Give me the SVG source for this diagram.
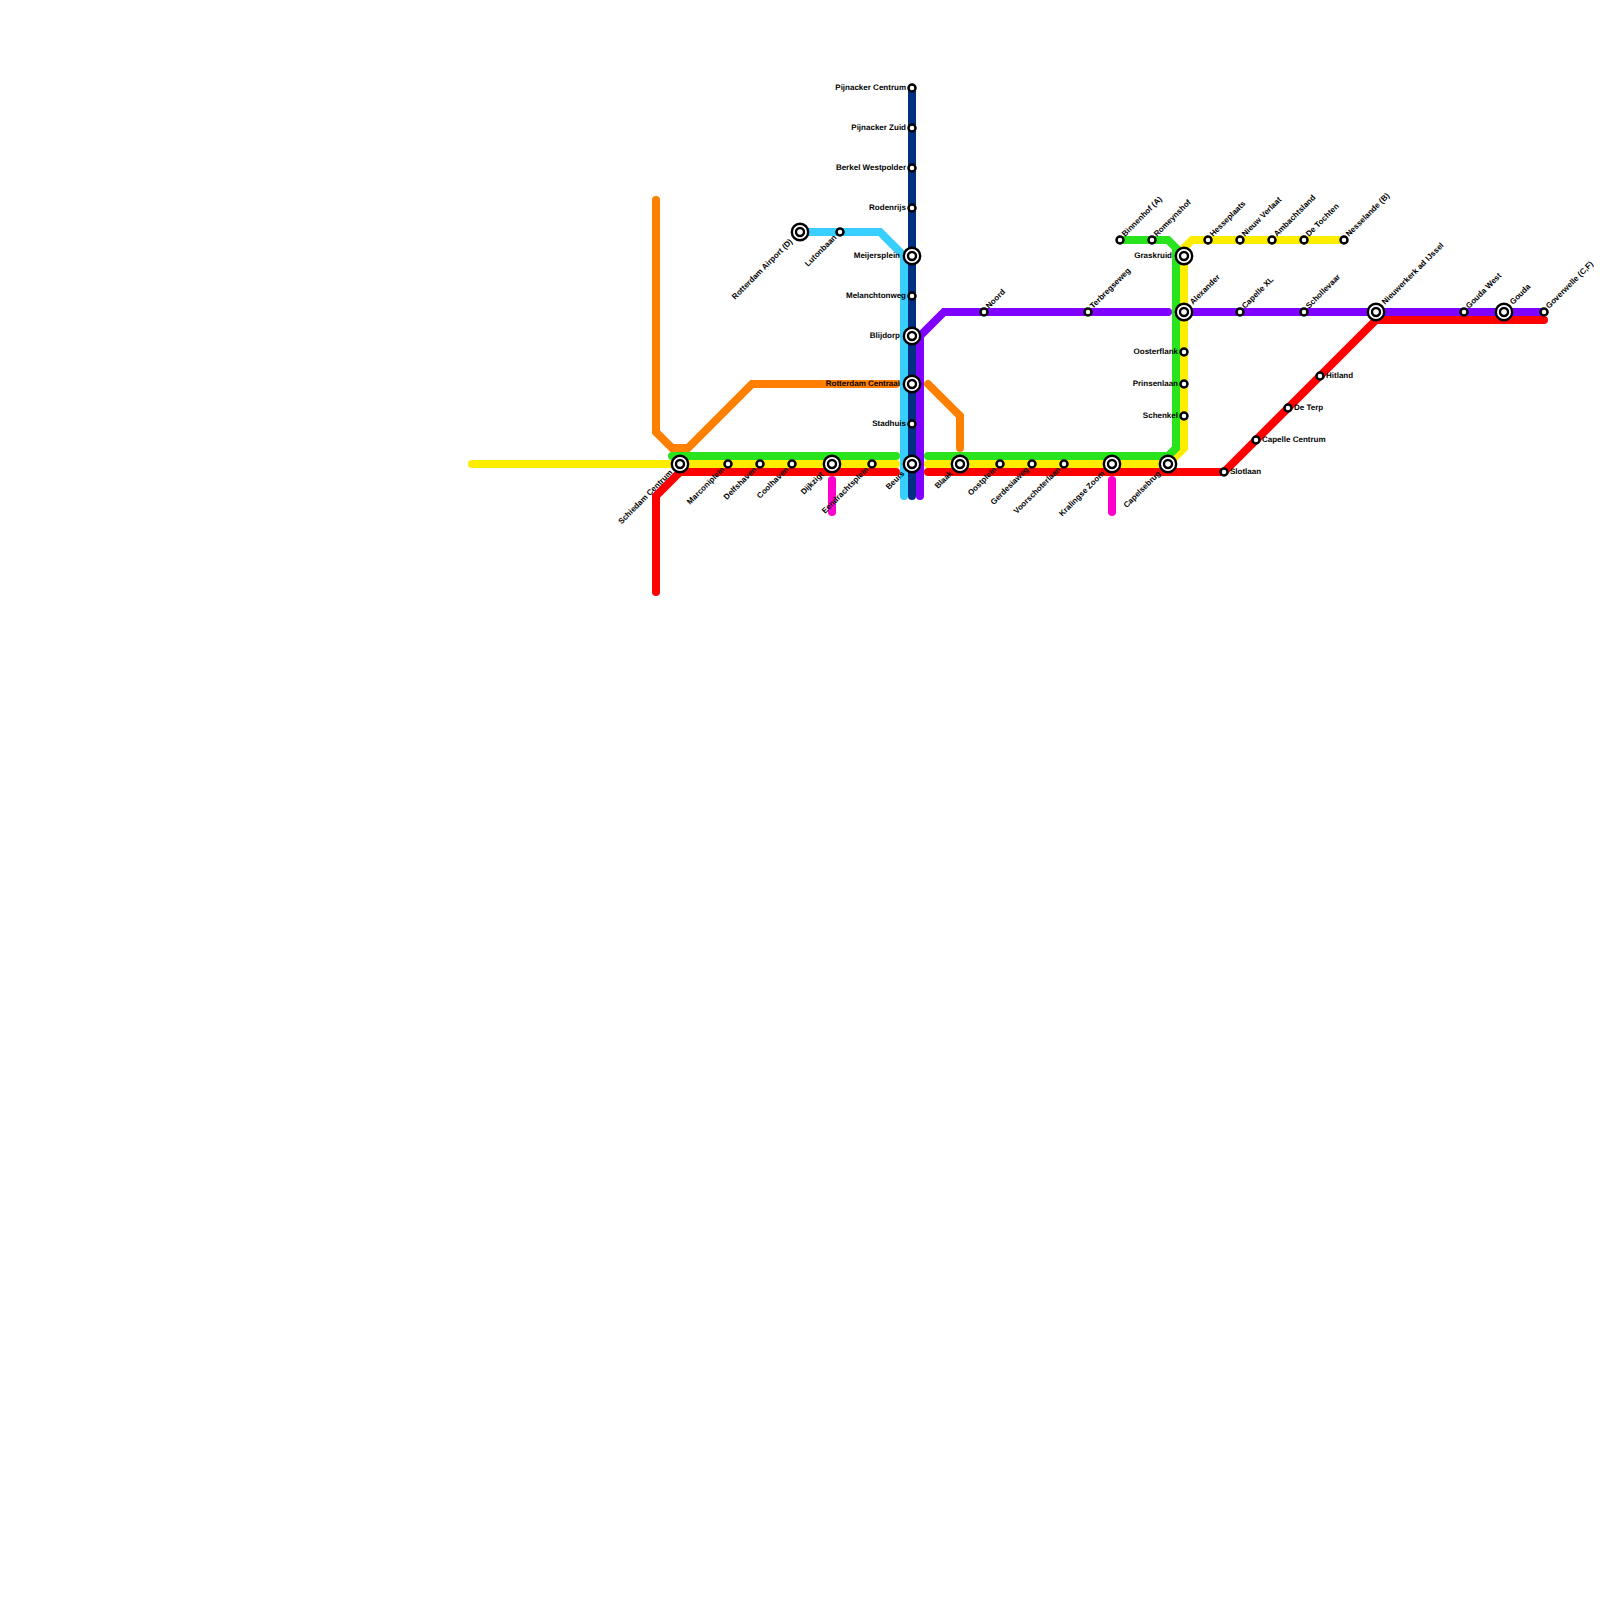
<svg xmlns="http://www.w3.org/2000/svg" width="1600" height="1600" viewBox="0 0 1600 1600">
<style>
.l{fill:none;stroke-width:8;stroke-linecap:round;stroke-linejoin:miter}
.o{fill:#fff;stroke:#000;stroke-width:2.5}
.o2{fill:#fff;stroke:#000;stroke-width:2.4}
text{font-family:"Liberation Sans",Arial,sans-serif;font-size:8px;font-weight:700;fill:#000;text-rendering:geometricPrecision}
.e{text-anchor:end}
</style>
<rect width="1600" height="1600" fill="#fff"/>
<g id="connectors">
<path class="l" stroke="#ff7f00" d="M656 200V432L672 448H688L752 384H896"/>
<path class="l" stroke="#ff7f00" d="M928 384L960 416V448"/>
<path class="l" stroke="#ffed00" d="M472 464H896"/>
<path class="l" stroke="#ffed00" d="M928 464H1168L1184 448V248L1192 240H1344"/>
<path class="l" stroke="#29e31d" d="M672 456H896"/>
<path class="l" stroke="#29e31d" d="M928 456H1168L1176 448V248L1168 240H1120"/>
<path class="l" stroke="#ff0000" d="M656 592V496L680 472H896"/>
<path class="l" stroke="#ff0000" d="M928 472H1224L1376 320H1544"/>
<path class="l" stroke="#ff00cc" d="M832 480V512"/>
<path class="l" stroke="#ff00cc" d="M1112 480V512"/>
<path class="l" stroke="#38cfff" d="M800 232H880L904 256V496"/>
<path class="l" stroke="#8000ff" d="M920 496V336L944 312H1168"/>
<path class="l" stroke="#8000ff" d="M1184 312H1544"/>
<path class="l" stroke="#003080" d="M912 88V496"/>
</g>
<g id="n-pijnacker-centrum"><circle class="o" cx="912" cy="88" r="3.5"/><text class="e" x="906" y="90">Pijnacker Centrum</text></g>
<g id="n-pijnacker-zuid"><circle class="o" cx="912" cy="128" r="3.5"/><text class="e" x="906" y="130">Pijnacker Zuid</text></g>
<g id="n-berkel"><circle class="o" cx="912" cy="168" r="3.5"/><text class="e" x="906" y="170">Berkel Westpolder</text></g>
<g id="n-rodenrijs"><circle class="o" cx="912" cy="208" r="3.5"/><text class="e" x="906" y="210">Rodenrijs</text></g>
<g id="n-meijersplein"><circle class="o2" cx="912" cy="256" r="8.2"/><circle class="o2" cx="912" cy="256" r="4"/><text class="e" x="900" y="258">Meijersplein</text></g>
<g id="n-melanchtonweg"><circle class="o" cx="912" cy="296" r="3.5"/><text class="e" x="906" y="298">Melanchtonweg</text></g>
<g id="n-blijdorp"><circle class="o2" cx="912" cy="336" r="8.2"/><circle class="o2" cx="912" cy="336" r="4"/><text class="e" x="900" y="338">Blijdorp</text></g>
<g id="n-rotterdam-centraal"><circle class="o2" cx="912" cy="384" r="8.2"/><circle class="o2" cx="912" cy="384" r="4"/><text class="e" x="900" y="386">Rotterdam Centraal</text></g>
<g id="n-stadhuis"><circle class="o" cx="912" cy="424" r="3.5"/><text class="e" x="906" y="426">Stadhuis</text></g>
<g id="n-beurs"><circle class="o2" cx="912" cy="464" r="8.2"/><circle class="o2" cx="912" cy="464" r="4"/><text class="e" transform="translate(905 474) rotate(-45)">Beurs</text></g>
<g id="n-airport"><circle class="o2" cx="800" cy="232" r="8.2"/><circle class="o2" cx="800" cy="232" r="4"/><text class="e" transform="translate(793 242) rotate(-45)">Rotterdam Airport (D)</text></g>
<g id="n-lutonbaan"><circle class="o" cx="840" cy="232" r="3.5"/><text class="e" transform="translate(837 238) rotate(-45)">Lutonbaan</text></g>
<g id="n-schiedam"><circle class="o2" cx="680" cy="464" r="8.2"/><circle class="o2" cx="680" cy="464" r="4"/><text class="e" transform="translate(673 473) rotate(-45)">Schiedam Centrum</text></g>
<g id="n-marconiplein"><circle class="o" cx="728" cy="464" r="3.5"/><text class="e" transform="translate(725 470) rotate(-45)">Marconiplein</text></g>
<g id="n-delfshaven"><circle class="o" cx="760" cy="464" r="3.5"/><text class="e" transform="translate(757 470) rotate(-45)">Delfshaven</text></g>
<g id="n-coolhaven"><circle class="o" cx="792" cy="464" r="3.5"/><text class="e" transform="translate(789 470) rotate(-45)">Coolhaven</text></g>
<g id="n-dijkzigt"><circle class="o2" cx="832" cy="464" r="8.2"/><circle class="o2" cx="832" cy="464" r="4"/><text class="e" transform="translate(824 475) rotate(-45)">Dijkzigt</text></g>
<g id="n-eendrachtsplein"><circle class="o" cx="872" cy="464" r="3.5"/><text class="e" transform="translate(869 470) rotate(-45)">Eendrachtsplein</text></g>
<g id="n-blaak"><circle class="o2" cx="960" cy="464" r="8.2"/><circle class="o2" cx="960" cy="464" r="4"/><text class="e" transform="translate(953 474) rotate(-45)">Blaak</text></g>
<g id="n-oostplein"><circle class="o" cx="1000" cy="464" r="3.5"/><text class="e" transform="translate(997 470) rotate(-45)">Oostplein</text></g>
<g id="n-gerdesiaweg"><circle class="o" cx="1032" cy="464" r="3.5"/><text class="e" transform="translate(1029 470) rotate(-45)">Gerdesiaweg</text></g>
<g id="n-voorschoterlaan"><circle class="o" cx="1064" cy="464" r="3.5"/><text class="e" transform="translate(1061 470) rotate(-45)">Voorschoterlaan</text></g>
<g id="n-kralingse-zoom"><circle class="o2" cx="1112" cy="464" r="8.2"/><circle class="o2" cx="1112" cy="464" r="4"/><text class="e" transform="translate(1105 474) rotate(-45)">Kralingse Zoom</text></g>
<g id="n-capelsebrug"><circle class="o2" cx="1168" cy="464" r="8.2"/><circle class="o2" cx="1168" cy="464" r="4"/><text class="e" transform="translate(1161 474) rotate(-45)">Capelsebrug</text></g>
<g id="n-slotlaan"><circle class="o" cx="1224" cy="472" r="3.5"/><text x="1230" y="474">Slotlaan</text></g>
<g id="n-capelle-centrum"><circle class="o" cx="1256" cy="440" r="3.5"/><text x="1262" y="442">Capelle Centrum</text></g>
<g id="n-de-terp"><circle class="o" cx="1288" cy="408" r="3.5"/><text x="1294" y="410">De Terp</text></g>
<g id="n-hitland"><circle class="o" cx="1320" cy="376" r="3.5"/><text x="1326" y="378">Hitland</text></g>
<g id="n-nieuwerkerk"><circle class="o2" cx="1376" cy="312" r="8.2"/><circle class="o2" cx="1376" cy="312" r="4"/><text transform="translate(1385 305) rotate(-45)">Nieuwerkerk ad IJssel</text></g>
<g id="n-gouda-west"><circle class="o" cx="1464" cy="312" r="3.5"/><text transform="translate(1469 309) rotate(-45)">Gouda West</text></g>
<g id="n-gouda"><circle class="o2" cx="1504" cy="312" r="8.2"/><circle class="o2" cx="1504" cy="312" r="4"/><text transform="translate(1513 305) rotate(-45)">Gouda</text></g>
<g id="n-goverwelle"><circle class="o" cx="1544" cy="312" r="3.5"/><text transform="translate(1549 309) rotate(-45)">Goverwelle (C,F)</text></g>
<g id="n-schollevaar"><circle class="o" cx="1304" cy="312" r="3.5"/><text transform="translate(1309 309) rotate(-45)">Schollevaar</text></g>
<g id="n-capelle-xl"><circle class="o" cx="1240" cy="312" r="3.5"/><text transform="translate(1245 309) rotate(-45)">Capelle XL</text></g>
<g id="n-alexander"><circle class="o2" cx="1184" cy="312" r="8.2"/><circle class="o2" cx="1184" cy="312" r="4"/><text transform="translate(1193 305) rotate(-45)">Alexander</text></g>
<g id="n-terbregseweg"><circle class="o" cx="1088" cy="312" r="3.5"/><text transform="translate(1093 309) rotate(-45)">Terbregseweg</text></g>
<g id="n-noord"><circle class="o" cx="984" cy="312" r="3.5"/><text transform="translate(989 309) rotate(-45)">Noord</text></g>
<g id="n-oosterflank"><circle class="o" cx="1184" cy="352" r="3.5"/><text class="e" x="1178" y="354">Oosterflank</text></g>
<g id="n-prinsenlaan"><circle class="o" cx="1184" cy="384" r="3.5"/><text class="e" x="1178" y="386">Prinsenlaan</text></g>
<g id="n-schenkel"><circle class="o" cx="1184" cy="416" r="3.5"/><text class="e" x="1178" y="418">Schenkel</text></g>
<g id="n-graskruid"><circle class="o2" cx="1184" cy="256" r="8.2"/><circle class="o2" cx="1184" cy="256" r="4"/><text class="e" x="1172" y="258">Graskruid</text></g>
<g id="n-binnenhof"><circle class="o" cx="1120" cy="240" r="3.5"/><text transform="translate(1125 237) rotate(-45)">Binnenhof (A)</text></g>
<g id="n-romeynshof"><circle class="o" cx="1152" cy="240" r="3.5"/><text transform="translate(1157 237) rotate(-45)">Romeynshof</text></g>
<g id="n-hesseplaats"><circle class="o" cx="1208" cy="240" r="3.5"/><text transform="translate(1213 237) rotate(-45)">Hesseplaats</text></g>
<g id="n-nieuw-verlaat"><circle class="o" cx="1240" cy="240" r="3.5"/><text transform="translate(1245 237) rotate(-45)">Nieuw Verlaat</text></g>
<g id="n-ambachtsland"><circle class="o" cx="1272" cy="240" r="3.5"/><text transform="translate(1277 237) rotate(-45)">Ambachtsland</text></g>
<g id="n-de-tochten"><circle class="o" cx="1304" cy="240" r="3.5"/><text transform="translate(1309 237) rotate(-45)">De Tochten</text></g>
<g id="n-nesselande"><circle class="o" cx="1344" cy="240" r="3.5"/><text transform="translate(1349 237) rotate(-45)">Nesselande (B)</text></g>
</svg>
